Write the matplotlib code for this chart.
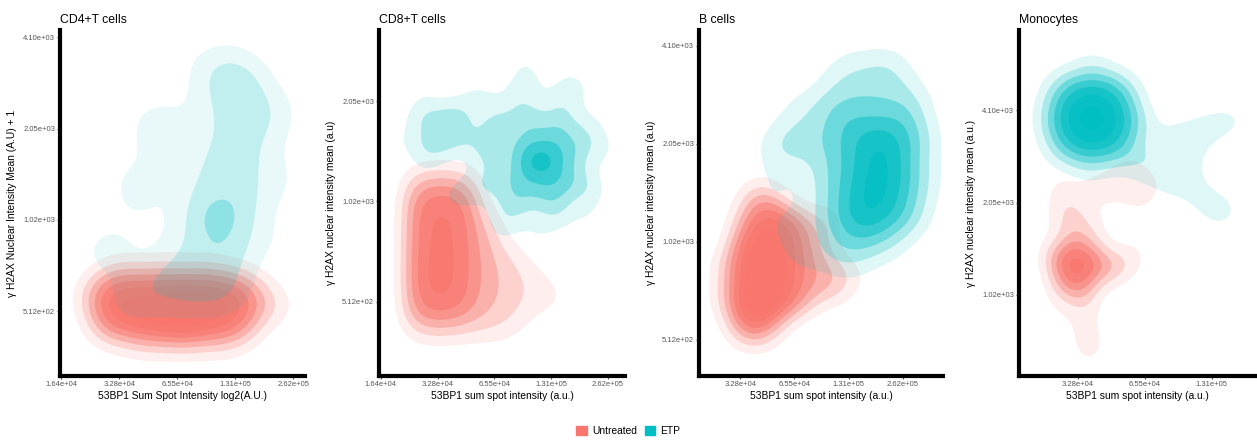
import numpy as np
import matplotlib.pyplot as plt
from matplotlib.patches import Patch

plt.rcParams['font.family'] = ['Liberation Sans', 'DejaVu Sans']

RED = '#F8766D'
TEAL = '#00BFC4'

titles = ['CD4+T cells', 'CD8+T cells', 'B cells', 'Monocytes']
xlabels = ['53BP1 Sum Spot Intensity log2(A.U.)',
           '53BP1 sum spot intensity (a.u.)',
           '53BP1 sum spot intensity (a.u.)',
           '53BP1 sum spot intensity (a.u.)']
ylabels = ['\u03b3 H2AX Nuclear Intensity Mean (A.U) + 1',
           '\u03b3 H2AX nuclear intensity mean (a.u)',
           '\u03b3 H2AX nuclear intensity mean (a.u)',
           '\u03b3 H2AX nuclear intensity mean (a.u.)']

# log2 tick positions
xticks = [[14, 15, 16, 17, 18], [14, 15, 16, 17, 18], [15, 16, 17, 18], [15, 16, 17]]
yticks = [[9, 10, 11, 12], [9, 10, 11], [9, 10, 11, 12], [10, 11, 12]]

# cell clusters, log2 units (x = 53BP1, y = gH2AX), w = weight
cd4_untreated_x = [14.76, 15.10, 15.45, 15.79, 16.14, 16.48, 16.83, 17.17,
                   14.76, 15.10, 15.45, 15.79, 16.14, 16.48, 16.83, 17.17,
                   14.76, 15.10, 15.45, 15.79, 16.14, 16.48, 16.83, 17.17,
                   17.52, 17.81, 14.47, 15.10, 15.79, 16.48, 15.45, 16.14, 16.83]
cd4_untreated_y = [9.27] * 8 + [9.05] * 8 + [8.84] * 8 + [9.11, 9.05, 9.16,
                                                          9.49, 9.49, 9.49, 8.62, 8.62, 8.62]
cd4_untreated_w = [1.0, 1.0, 1.0, 1.0, 1.0, 1.0, 1.0, 0.9,
                   1.0, 1.0, 1.0, 1.1, 1.15, 1.1, 1.0, 0.9,
                   0.9, 1.0, 1.1, 1.35, 1.35, 1.2, 1.0, 0.8,
                   0.6, 0.35, 0.4, 0.3, 0.3, 0.3, 0.3, 0.3, 0.3]
cd4_etp_x = [16.91, 17.34, 16.57, 17.09, 17.52, 16.48, 17.00, 17.34, 16.40, 16.91,
             17.26, 16.31, 16.66, 17.09, 16.14, 16.66, 17.09, 15.79, 16.31, 16.83,
             15.36, 15.88, 16.40, 16.91, 15.10, 15.53, 15.36, 14.93, 16.91, 17.86,
             14.67, 15.19, 15.70, 16.40, 16.60, 17.20, 17.80, 17.70, 15.80]
cd4_etp_y = [11.47, 11.36, 11.14, 11.09, 11.03, 10.76, 10.76, 10.65, 10.43, 10.37,
             10.26, 10.10, 10.01, 9.99, 9.71, 9.66, 9.66, 9.44, 9.38, 9.38,
             9.22, 9.16, 9.16, 9.16, 9.05, 10.98, 10.21, 9.66, 11.75, 10.43,
             9.66, 10.43, 11.14, 11.75, 11.55, 11.60, 11.20, 9.80, 10.70]
cd4_etp_w = [1.0, 1.0, 1.0, 1.0, 1.0, 1.0, 1.0, 1.0, 1.0, 1.0,
             1.0, 1.0, 2.0, 1.0, 1.0, 1.0, 1.0, 1.0, 1.0, 1.0,
             1.0, 1.0, 1.0, 1.0, 0.8, 0.9, 0.9, 0.9, 0.6, 0.8,
             0.8, 0.9, 0.8, 0.5, 0.9, 0.9, 0.7, 0.6, 0.8]

cd8_untreated_x = [14.61] * 6 + [14.93] * 6 + [15.25] * 6 + [15.56] * 6 + \
                  [15.91] * 4 + [16.26] * 3 + [16.61] * 2 + [16.96, 17.20]
cd8_untreated_y = [10.11, 9.86, 9.61, 9.36, 9.11, 8.86] * 4 + \
                  [9.71, 9.41, 9.11, 8.81, 9.41, 9.11, 8.81, 9.26, 8.96, 9.11, 9.00]
cd8_untreated_w = [0.85, 0.9, 0.9, 0.95, 0.95, 0.85,
                   0.95, 1.0, 1.0, 1.05, 1.05, 0.95,
                   0.95, 1.0, 1.0, 1.0, 1.0, 0.9,
                   0.75, 0.8, 0.8, 0.8, 0.8, 0.75,
                   0.65, 0.7, 0.7, 0.6, 0.55, 0.55, 0.5, 0.42, 0.4, 0.35, 0.25]
cd8_etp_x = [16.58, 16.96, 16.58, 16.96,
             16.09, 16.61, 17.14, 17.40, 17.35, 16.96, 16.44, 16.00, 15.95,
             15.74, 16.44, 17.23, 17.67, 17.70, 17.14, 16.26, 15.56, 15.53,
             14.77, 15.12, 14.86, 15.30, 16.61, 17.40, 17.93, 17.75, 16.79, 16.09,
             14.68, 15.56, 16.44, 14.42, 14.60, 15.21, 18.02]
cd8_etp_y = [10.51, 10.51, 10.31, 10.31,
             10.76, 10.81, 10.76, 10.51, 10.21, 10.06, 10.06, 10.21, 10.51,
             11.01, 11.06, 11.01, 10.71, 10.11, 9.89, 9.89, 10.11, 10.61,
             10.86, 10.66, 10.51, 10.86, 11.26, 11.21, 10.51, 9.76, 9.69, 9.71,
             11.26, 11.46, 11.53, 10.61, 10.16, 10.01, 11.11]
cd8_etp_w = [1.0, 1.0, 1.0, 1.0,
             0.8, 0.8, 0.8, 0.8, 0.8, 0.8, 0.8, 0.8, 0.8,
             0.5, 0.5, 0.5, 0.5, 0.5, 0.5, 0.5, 0.5, 0.5,
             0.7, 0.7, 0.65, 0.7, 0.35, 0.35, 0.35, 0.35, 0.35, 0.35,
             0.3, 0.3, 0.3, 0.3, 0.3, 0.3, 0.3]

b_untreated_x = [15.09, 15.42, 15.76, 15.09, 15.42, 15.76, 15.09, 15.42, 15.76, 15.09, 15.42, 15.76,
                 15.18, 15.52, 15.83, 15.28, 15.64, 15.37, 15.09, 15.42,
                 16.10, 16.10, 16.10, 16.44, 16.44, 16.77, 16.77, 17.06,
                 16.10, 16.47, 16.66, 15.09, 15.46, 14.72, 14.72]
b_untreated_y = [9.96, 9.96, 9.96, 9.76, 9.76, 9.76, 9.55, 9.55, 9.55, 9.35, 9.35, 9.35,
                 10.17, 10.17, 10.17, 10.37, 10.35, 10.53, 9.18, 9.20,
                 9.91, 9.66, 9.40, 9.81, 9.55, 9.71, 9.50, 9.63,
                 10.17, 10.07, 10.27, 9.04, 9.04, 9.73, 9.42]
b_untreated_w = [1.2, 1.2, 1.2, 1.2, 1.2, 1.2, 1.3, 1.2, 1.2, 1.3, 1.2, 1.1,
                 1.0, 1.0, 1.0, 0.8, 0.8, 0.5, 0.9, 0.9,
                 0.85, 0.85, 0.85, 0.7, 0.7, 0.5, 0.5, 0.35,
                 0.8, 0.6, 0.4, 0.5, 0.5, 0.5, 0.5]
b_etp_x = [17.49, 17.54, 17.49, 17.39,
           17.03, 17.95, 17.03, 17.95, 17.03, 17.91, 17.03, 17.85, 17.21,
           17.39, 18.13, 18.31, 18.31, 18.13, 16.66, 16.57, 16.57, 16.57, 16.75, 17.67,
           15.98,
           16.10, 15.64, 15.55, 15.74, 16.10, 17.03, 17.67, 16.84, 17.03, 17.76]
b_etp_y = [11.09, 10.83, 10.58, 10.32,
           11.24, 11.24, 10.94, 10.94, 10.63, 10.63, 10.32, 10.32, 10.07,
           11.50, 11.45, 11.04, 10.63, 10.27, 11.34, 10.99, 10.63, 10.27, 9.96, 10.01,
           11.01,
           11.34, 10.94, 10.53, 10.12, 9.81, 9.76, 11.70, 11.60, 11.81, 11.81]
b_etp_w = [1.5, 1.5, 1.5, 1.5,
           1.0, 1.0, 1.0, 1.0, 1.0, 1.0, 1.0, 1.0, 1.0,
           0.8, 0.8, 0.8, 0.8, 0.8, 0.8, 0.8, 0.8, 0.8, 0.8, 0.8,
           0.9,
           0.55, 0.55, 0.55, 0.55, 0.55, 0.55, 0.55, 0.55, 0.5, 0.5]

mono_untreated_x = [14.85, 15.12, 14.85, 15.12, 14.99,
                    15.33, 14.73, 14.99,
                    14.91, 14.91, 15.51, 15.10,
                    15.70, 14.73, 14.81, 15.25,
                    15.13, 15.15, 14.58, 15.90, 14.66, 14.61,
                    16.07, 15.85, 15.48, 14.51, 15.18, 15.70, 15.90, 15.25]
mono_untreated_y = [10.42, 10.42, 10.24, 10.24, 10.10,
                    10.35, 10.35, 10.59,
                    10.78, 10.97, 10.28, 9.93,
                    10.32, 10.04, 11.18, 10.75,
                    9.66, 9.48, 10.48, 10.48, 10.91, 9.72,
                    11.18, 11.29, 11.13, 11.24, 9.34, 11.35, 11.00, 11.20]
mono_untreated_w = [1.0, 1.0, 1.0, 1.0, 0.9,
                    0.7, 0.6, 0.7,
                    0.6, 0.5, 0.6, 0.6,
                    0.5, 0.45, 0.35, 0.4,
                    0.45, 0.35, 0.3, 0.35, 0.3, 0.25,
                    0.45, 0.42, 0.45, 0.2, 0.35, 0.4, 0.4, 0.4]
mono_etp_x = [14.70, 14.96, 15.21, 15.46, 15.72] * 5 + \
             [15.21, 15.93, 15.18, 14.51, 15.80,
              16.22, 16.30, 16.52, 16.75, 16.97, 17.19, 17.39,
              16.00, 16.22, 16.45, 16.52, 16.75, 16.94, 17.12, 17.21,
              16.75, 16.97]
mono_etp_y = [12.28] * 5 + [12.10] * 5 + [11.91] * 5 + [11.73] * 5 + [11.54] * 5 + \
             [12.52, 11.89, 11.33, 11.91, 11.45,
              11.46, 11.67, 11.73, 11.78, 11.83, 11.87, 11.90,
              11.35, 11.30, 11.27, 11.24, 11.11, 10.99, 10.91, 10.89,
              11.50, 11.45]
mono_etp_w = [0.45, 0.65, 0.7, 0.65, 0.45,
              0.65, 0.9, 0.95, 0.9, 0.65,
              0.7, 0.95, 1.0, 0.95, 0.7,
              0.65, 0.9, 0.95, 0.9, 0.65,
              0.45, 0.65, 0.7, 0.65, 0.45,
              0.4, 0.4, 0.35, 0.25, 0.3,
              0.3, 0.33, 0.33, 0.33, 0.33, 0.33, 0.3,
              0.33, 0.33, 0.33, 0.33, 0.33, 0.33, 0.33, 0.3,
              0.25, 0.2]

panels = [
    (cd4_untreated_x, cd4_untreated_y, cd4_untreated_w, cd4_etp_x, cd4_etp_y, cd4_etp_w),
    (cd8_untreated_x, cd8_untreated_y, cd8_untreated_w, cd8_etp_x, cd8_etp_y, cd8_etp_w),
    (b_untreated_x, b_untreated_y, b_untreated_w, b_etp_x, b_etp_y, b_etp_w),
    (mono_untreated_x, mono_untreated_y, mono_untreated_w, mono_etp_x, mono_etp_y, mono_etp_w),
]

# layout (pixels) and limits (log2)
left_px = [60, 379, 699, 1019]
right_px = [305, 625, 943, 1256]
xlims = [(13.98, 18.2), (13.97, 18.3), (14.24, 18.74), (14.12, 17.66)]
ylims = [(8.29, 12.08), (8.26, 11.71), (8.63, 12.16), (9.12, 12.87)]
# kernel bandwidths (untreated hx, hy, etp hx, hy)
bw = [(0.3, 0.2, 0.38, 0.24), (0.25, 0.2, 0.26, 0.15),
      (0.3, 0.16, 0.37, 0.2), (0.22, 0.16, 0.24, 0.17)]
# number of contour bands (untreated, etp) and alpha per band
nlev = [(8, 3), (6, 5), (8, 6), (6, 7)]
alpha_step = [(0.12, 0.085), (0.12, 0.12), (0.12, 0.12), (0.12, 0.12)]


def kde(xs, ys, ws, hx, hy, gx, gy):
    X, Y = np.meshgrid(gx, gy)
    Z = np.zeros_like(X)
    for x0, y0, w in zip(xs, ys, ws):
        Z += w * np.exp(-0.5 * ((X - x0) / hx) ** 2 - 0.5 * ((Y - y0) / hy) ** 2)
    return Z / (sum(ws) * 2 * np.pi * hx * hy)


W, H = 1257, 443
fig = plt.figure(figsize=(W / 100, H / 100), dpi=100)
top_px, bot_px = 30, 376

for i in range(4):
    ax = fig.add_axes([left_px[i] / W, 1 - bot_px / H,
                       (right_px[i] - left_px[i]) / W, (bot_px - top_px) / H])
    ux, uy, uw, ex, ey, ew = panels[i]
    gx = np.linspace(*xlims[i], 300)
    gy = np.linspace(*ylims[i], 300)
    Zu = kde(ux, uy, uw, bw[i][0], bw[i][1], gx, gy)
    Ze = kde(ex, ey, ew, bw[i][2], bw[i][3], gx, gy)
    for j, (Z, col) in enumerate([(Zu, RED), (Ze, TEAL)]):
        step = Z.max() / (nlev[i][j] + 0.3)
        for k in range(1, nlev[i][j] + 1):
            ax.contourf(gx, gy, Z, levels=[k * step, Z.max() * 2],
                        colors=[col], alpha=min(alpha_step[i][j] * k, 0.95),
                        antialiased=True)

    ax.set_xlim(*xlims[i])
    ax.set_ylim(*ylims[i])
    ax.set_xticks(xticks[i])
    ax.set_yticks(yticks[i])
    ax.set_xticklabels([f'{2.0 ** v:.2e}' for v in xticks[i]])
    ax.set_yticklabels([f'{2.0 ** v:.2e}' for v in yticks[i]])
    ax.tick_params(labelsize=5.5, labelcolor='#555555', length=2, width=0.8,
                   color='#555555', pad=1.5)
    for s in ['top', 'right']:
        ax.spines[s].set_visible(False)
    for s in ['left', 'bottom']:
        ax.spines[s].set_linewidth(3)
        ax.spines[s].set_color('black')
    ax.set_title(titles[i], loc='left', fontsize=8.8, pad=5)
    ax.set_xlabel(xlabels[i], fontsize=7.4, labelpad=2)
    ax.set_ylabel(ylabels[i], fontsize=7.4)
    ax.yaxis.set_label_coords(-43 / (right_px[i] - left_px[i]), 0.5)

handles = [Patch(color=RED, label='Untreated'), Patch(color=TEAL, label='ETP')]
fig.legend(handles=handles, loc='lower center', ncol=2, frameon=False,
           fontsize=7.4, handlelength=1.0, handleheight=1.0, handletextpad=0.5,
           columnspacing=0.8, bbox_to_anchor=(0.5, -0.005))

fig.savefig('out.png', dpi=100)
